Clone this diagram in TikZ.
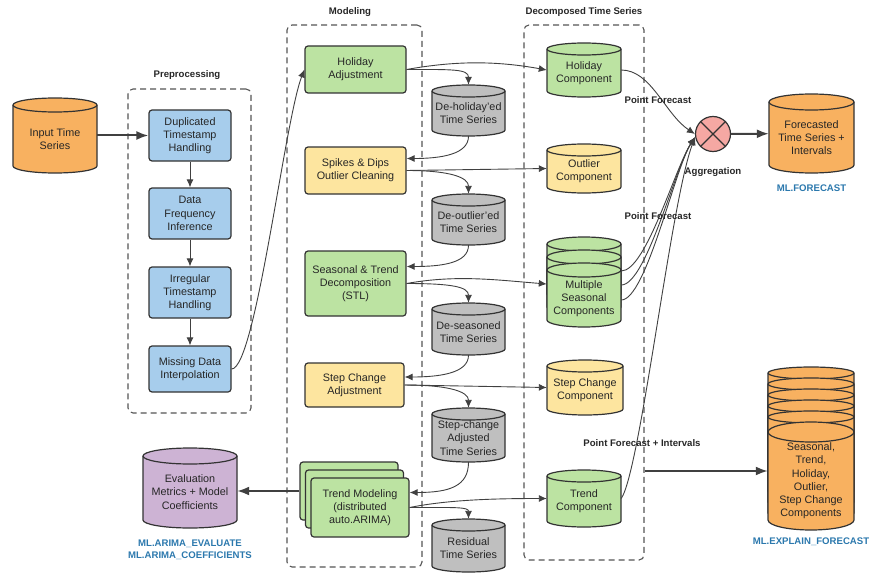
\documentclass[tikz,border=0pt]{standalone}
\usepackage{fontspec}
\setmainfont{Liberation Sans}
\usetikzlibrary{arrows.meta}

\definecolor{lineC}{HTML}{404040}
\definecolor{edgeC}{HTML}{333333}
\definecolor{groupC}{HTML}{555555}
\definecolor{txtC}{HTML}{262626}
\definecolor{orangeC}{HTML}{F8B160}
\definecolor{blueC}{HTML}{A7CDEC}
\definecolor{greenC}{HTML}{BCE3A2}
\definecolor{yellowC}{HTML}{FDE59F}
\definecolor{grayC}{HTML}{BFBFBF}
\definecolor{purpleC}{HTML}{CDB3D4}
\definecolor{pinkC}{HTML}{F5A8A3}
\definecolor{apiC}{HTML}{2B78AD}

\newcommand\boxfont{\fontsize{10.8}{13.2}\selectfont}
\newcommand\tagfont{\bfseries\fontsize{9.6}{12}\selectfont}

\tikzset{
  box/.style={draw=edgeC, line width=1.2pt, rounded corners=3pt, align=center, inner sep=0pt, text=txtC, font=\boxfont},
  groupbox/.style={draw=groupC, dash pattern=on 6pt off 4pt, line width=1.1pt, rounded corners=5pt, inner sep=0pt},
  grouplabel/.style={font=\tagfont, text=txtC, inner sep=1pt},
  api/.style={font=\tagfont, text=apiC, inner sep=1pt, align=center},
  cylline/.style={draw=edgeC, line width=1.2pt},
  cylbox/.style={inner sep=0pt},
  cyltext/.style={align=center, font=\boxfont, text=txtC, inner sep=0pt},
  agg/.style={circle, draw=edgeC, line width=1.2pt, fill=pinkC, minimum size=35pt, inner sep=0pt},
  conn/.style={draw=lineC, line width=0.9pt, -{Latex[length=8pt, width=7pt]}},
  bigconn/.style={draw=lineC, line width=2pt, -{Latex[length=12pt, width=9pt]}},
}

% cylinder outline: x, y, width, height, ellipse radius, fill
\newcommand\cylshape[6]{%
  \filldraw[cylline, fill=#6] ({#1-#3/2},{#2-#4/2+#5}) -- ({#1-#3/2},{#2+#4/2-#5})
    arc[start angle=180, end angle=0, x radius={#3/2}, y radius=#5]
    -- ({#1+#3/2},{#2-#4/2+#5})
    arc[start angle=0, end angle=-180, x radius={#3/2}, y radius=#5] -- cycle;
  \draw[cylline] ({#1-#3/2},{#2-#4/2+#5}) arc[start angle=180, end angle=0, x radius={#3/2}, y radius=#5];
}
% cylinder with name and text: name, x, y, width, height, radius, fill, text
\newcommand\cylnode[8]{%
  \cylshape{#2}{#3}{#4}{#5}{#6}{#7}
  \node[cylbox, minimum width=#4, minimum height=#5] (#1) at (#2,#3) {};
  \node[cyltext] (#1-t) at (#2,{#3+#6/2}) {#8};
}

\begin{document}
\begin{tikzpicture}[x=1pt, y=-1pt]
\useasboundingbox (0,0) rectangle (875,583);

% groups
\node[groupbox, minimum width=123, minimum height=324] (prebox) at (189.5,251) {};
\node[groupbox, minimum width=135, minimum height=542] (modbox) at (354.5,296) {};
\node[groupbox, minimum width=120, minimum height=535] (decbox) at (584,292.5) {};
\node[grouplabel] (pretitle) at (187,75) {Preprocessing};
\node[grouplabel] (modtitle) at (350,12) {Modeling};
\node[grouplabel] (dectitle) at (584,12) {Decomposed Time Series};

% input
\cylnode{input}{55}{135.5}{84}{75}{7}{orangeC}{Input Time\\Series}

% preprocessing
\foreach \n/\y/\h/\t in {dup/135.5/51/{Duplicated\\Timestamp\\Handling}, freq/213.5/51/{Data\\Frequency\\Inference}, irreg/292.5/51/{Irregular\\Timestamp\\Handling}, miss/369/46/{Missing Data\\Interpolation}}
  \node[box, fill=blueC, minimum width=82, minimum height=\h] (\n) at (190,\y) {\t};

% modeling steps
\node[box, fill=greenC, minimum width=101, minimum height=47] (holadj) at (355.5,69.5) {Holiday\\Adjustment};
\node[box, fill=yellowC, minimum width=101, minimum height=47] (spikes) at (355.5,170.5) {Spikes \& Dips\\Outlier Cleaning};
\node[box, fill=greenC, minimum width=101, minimum height=65] (stl) at (355.5,283.5) {Seasonal \& Trend\\Decomposition\\(STL)};
\node[box, fill=yellowC, minimum width=99, minimum height=44] (stepadj) at (354.5,385) {Step Change\\Adjustment};
\node[box, fill=greenC, minimum width=98, minimum height=58] (trendback) at (349,491) {};
\node[box, fill=greenC, minimum width=98, minimum height=58] (trendmid) at (354.5,499) {};
\node[box, fill=greenC, minimum width=98, minimum height=59] (trend) at (360,507.5) {Trend Modeling\\(distributed\\auto.ARIMA)};

% intermediate series
\foreach \n/\y/\h/\t in {dehol/110.5/51/{De-holiday'ed\\Time Series}, deout/219.5/51/{De-outlier'ed\\Time Series}, deseas/329/52/{De-seasoned\\Time Series}, stepser/435/54/{Step-change\\Adjusted\\Time Series}, resid/545.5/53/{Residual\\Time Series}}
  {\cylnode{\n}{468.5}{\y}{73}{\h}{6}{grayC}{\t}}

% components
\cylnode{holcomp}{584}{70}{74}{54}{6}{greenC}{Holiday\\Component}
\cylnode{outcomp}{584}{168.5}{74}{49}{6}{yellowC}{Outlier\\Component}
\cylshape{584}{269}{74}{64}{7}{greenC}
\cylshape{584}{282}{74}{64}{7}{greenC}
\cylnode{seascomp}{584}{295}{74}{64}{7}{greenC}{Multiple\\Seasonal\\Components}
\cylnode{stepcomp}{585}{387.5}{76}{55}{6}{yellowC}{Step Change\\Component}
\cylnode{trendcomp}{584}{498.5}{74}{57}{6}{greenC}{Trend\\Component}

% outputs
\node[agg] (agg) at (713,134) {};
\draw[line width=1.1pt, draw=edgeC] (agg.45) -- (agg.225) (agg.135) -- (agg.315);
\node[grouplabel] (aggtitle) at (713,172) {Aggregation};
\cylnode{forecast}{811.5}{133.5}{85}{79}{8}{orangeC}{Forecasted\\Time Series +\\Intervals}
\node[api] (forecastapi) at (811.5,188) {ML.FORECAST};

\foreach \y in {367,378,389,400,411}
  {\cylshape{811}{\y+54}{86}{108}{6}{orangeC}}
\cylnode{explain}{811}{476}{86}{108}{10}{orangeC}{Seasonal,\\Trend,\\Holiday,\\Outlier,\\Step Change\\Components}
\node[api] (explainapi) at (811,542) {ML.EXPLAIN\_FORECAST};

\cylnode{evalm}{190}{488}{94}{80}{8}{purpleC}{Evaluation\\Metrics + Model\\Coefficients}
\node[api] (evalapi) at (190,550) {ML.ARIMA\_EVALUATE\\ML.ARIMA\_COEFFICIENTS};

% preprocessing flow
\draw[bigconn] (input) -- (dup);
\foreach \a/\b in {dup/freq, freq/irreg, irreg/miss}
  \draw[conn] (\a) -- (\b);
\draw[conn] (miss.east) .. controls +(24,0) and +(-20,52) .. (holadj.west);

% modeling flow
\draw[conn] (holadj.east) .. controls +(50,-9) and +(-50,-9) .. (holcomp.west);
\draw[conn] (holadj.east) .. controls +(45,0) and +(0,-16) .. (dehol.north);
\draw[conn] (dehol.south) .. controls +(0,18) and +(35,0) .. ([yshift=12pt]spikes.east);
\draw[conn] (spikes.east) -- (outcomp.west);
\draw[conn] (spikes.east) .. controls +(45,0) and +(0,-16) .. (deout.north);
\draw[conn] (deout.south) .. controls +(0,18) and +(35,0) .. ([yshift=17pt]stl.east);
\draw[conn] (stl.east) .. controls +(50,-9) and +(-50,-4) .. ([yshift=11pt]seascomp.west);
\draw[conn] (stl.east) .. controls +(45,0) and +(0,-16) .. (deseas.north);
\draw[conn] (deseas.south) .. controls +(0,18) and +(35,0) .. ([yshift=8pt]stepadj.east);
\draw[conn] (stepadj.east) -- (stepcomp.west);
\draw[conn] (stepadj.east) .. controls +(45,0) and +(0,-16) .. (stepser.north);
\draw[conn] (stepser.south) .. controls +(0,24) and +(40,0) .. ([yshift=15pt]trend.east);
\draw[conn] (trend.east) .. controls +(40,-8) and +(-50,0) .. (trendcomp.west);
\draw[conn] (trend.east) .. controls +(45,0) and +(0,-12) .. (resid.north);
\draw[bigconn] (trendback.west) -- (evalm.east |- trendback.west);

% aggregation
\draw[conn] (holcomp.east) .. controls +(30,0) and +(-30,-20) .. (agg.west);
\foreach \s in {24,10,-5}
  \draw[conn] ([yshift=\s pt]seascomp.east) .. controls +(25,0) and +(-20,30) .. (agg.190);
\draw[conn] (trendcomp.east) .. controls +(19,-27) and +(-24,62) .. (agg.190);
\draw[bigconn] (agg) -- (forecast);
\coordinate (explainin) at ([yshift=5pt]explain.west);
\draw[bigconn] (decbox.east |- explainin) -- (explainin);

\node[grouplabel] (pf1) at (658,100) {Point Forecast};
\node[grouplabel] (pf2) at (658,216) {Point Forecast};
\node[grouplabel] (pf3) at (642,443) {Point Forecast + Intervals};
\end{tikzpicture}
\end{document}
